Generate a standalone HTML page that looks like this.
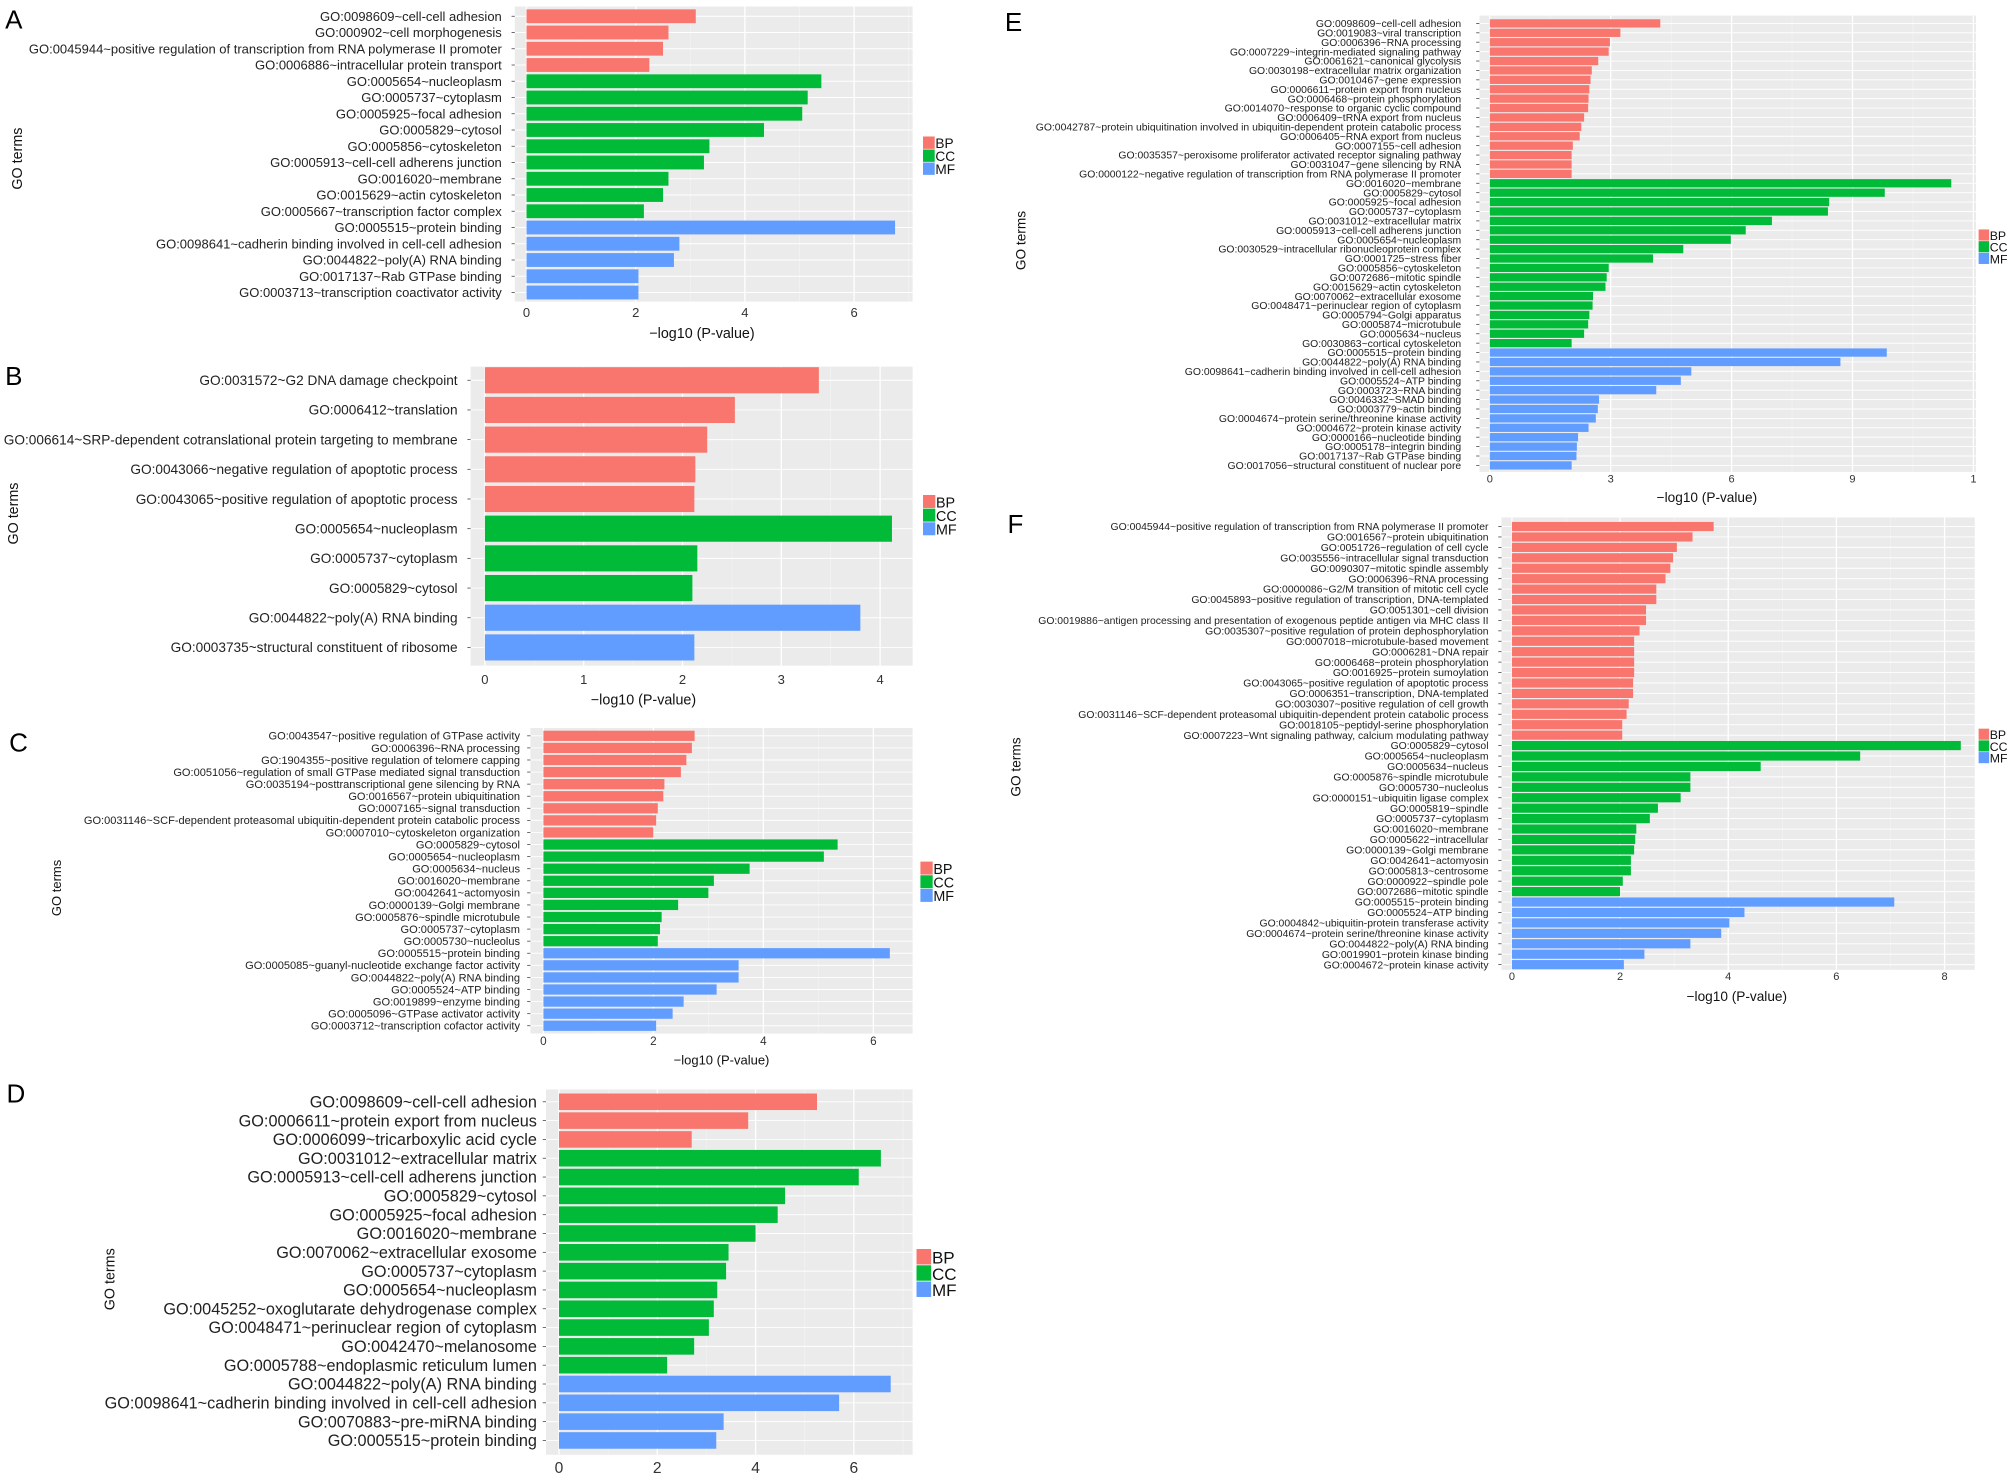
<!DOCTYPE html>
<html><head><meta charset="utf-8"><style>
html,body{margin:0;padding:0;background:#fff}
svg{display:block}
text{font-family:"Liberation Sans Narrow","Liberation Sans",sans-serif}
</style></head><body>
<svg id="fig" width="2008" height="1484" viewBox="0 0 1544.6 1141.5" preserveAspectRatio="none" xmlns="http://www.w3.org/2000/svg"></svg>
<script>
// ---------- DATA ----------
const catsA = ["GO:0098609~cell-cell adhesion","GO:000902~cell morphogenesis","GO:0045944~positive regulation of transcription from RNA polymerase II promoter","GO:0006886~intracellular protein transport","GO:0005654~nucleoplasm","GO:0005737~cytoplasm","GO:0005925~focal adhesion","GO:0005829~cytosol","GO:0005856~cytoskeleton","GO:0005913~cell-cell adherens junction","GO:0016020~membrane","GO:0015629~actin cytoskeleton","GO:0005667~transcription factor complex","GO:0005515~protein binding","GO:0098641~cadherin binding involved in cell-cell adhesion","GO:0044822~poly(A) RNA binding","GO:0017137~Rab GTPase binding","GO:0003713~transcription coactivator activity"];
const valsA = [3.1,2.6,2.5,2.25,5.4,5.15,5.05,4.35,3.35,3.25,2.6,2.5,2.15,6.75,2.8,2.7,2.05,2.05];
const grpA = ["BP","BP","BP","BP","CC","CC","CC","CC","CC","CC","CC","CC","CC","MF","MF","MF","MF","MF"];
const ticksA = [0,2,4,6];

const catsB = ["GO:0031572~G2 DNA damage checkpoint","GO:0006412~translation","GO:006614~SRP-dependent cotranslational protein targeting to membrane","GO:0043066~negative regulation of apoptotic process","GO:0043065~positive regulation of apoptotic process","GO:0005654~nucleoplasm","GO:0005737~cytoplasm","GO:0005829~cytosol","GO:0044822~poly(A) RNA binding","GO:0003735~structural constituent of ribosome"];
const valsB = [3.38,2.53,2.25,2.13,2.12,4.12,2.15,2.1,3.8,2.12];
const grpB = ["BP","BP","BP","BP","BP","CC","CC","CC","MF","MF"];
const ticksB = [0,1,2,3,4];

const catsC = ["GO:0043547~positive regulation of GTPase activity","GO:0006396~RNA processing","GO:1904355~positive regulation of telomere capping","GO:0051056~regulation of small GTPase mediated signal transduction","GO:0035194~posttranscriptional gene silencing by RNA","GO:0016567~protein ubiquitination","GO:0007165~signal transduction","GO:0031146~SCF-dependent proteasomal ubiquitin-dependent protein catabolic process","GO:0007010~cytoskeleton organization","GO:0005829~cytosol","GO:0005654~nucleoplasm","GO:0005634~nucleus","GO:0016020~membrane","GO:0042641~actomyosin","GO:0000139~Golgi membrane","GO:0005876~spindle microtubule","GO:0005737~cytoplasm","GO:0005730~nucleolus","GO:0005515~protein binding","GO:0005085~guanyl-nucleotide exchange factor activity","GO:0044822~poly(A) RNA binding","GO:0005524~ATP binding","GO:0019899~enzyme binding","GO:0005096~GTPase activator activity","GO:0003712~transcription cofactor activity"];
const valsC = [2.75,2.7,2.6,2.5,2.2,2.18,2.08,2.05,2.0,5.35,5.1,3.75,3.1,3.0,2.45,2.15,2.12,2.08,6.3,3.55,3.55,3.15,2.55,2.35,2.05];
const grpC = ["BP","BP","BP","BP","BP","BP","BP","BP","BP","CC","CC","CC","CC","CC","CC","CC","CC","CC","MF","MF","MF","MF","MF","MF","MF"];
const ticksC = [0,2,4,6];

const catsD = ["GO:0098609~cell-cell adhesion","GO:0006611~protein export from nucleus","GO:0006099~tricarboxylic acid cycle","GO:0031012~extracellular matrix","GO:0005913~cell-cell adherens junction","GO:0005829~cytosol","GO:0005925~focal adhesion","GO:0016020~membrane","GO:0070062~extracellular exosome","GO:0005737~cytoplasm","GO:0005654~nucleoplasm","GO:0045252~oxoglutarate dehydrogenase complex","GO:0048471~perinuclear region of cytoplasm","GO:0042470~melanosome","GO:0005788~endoplasmic reticulum lumen","GO:0044822~poly(A) RNA binding","GO:0098641~cadherin binding involved in cell-cell adhesion","GO:0070883~pre-miRNA binding","GO:0005515~protein binding"];
const valsD = [5.25,3.85,2.7,6.55,6.1,4.6,4.45,4.0,3.45,3.4,3.22,3.15,3.05,2.75,2.2,6.75,5.7,3.35,3.2];
const grpD = ["BP","BP","BP","CC","CC","CC","CC","CC","CC","CC","CC","CC","CC","CC","CC","MF","MF","MF","MF"];
const ticksD = [0,2,4,6];

const catsE = ["GO:0098609~cell-cell adhesion","GO:0019083~viral transcription","GO:0006396~RNA processing","GO:0007229~integrin-mediated signaling pathway","GO:0061621~canonical glycolysis","GO:0030198~extracellular matrix organization","GO:0010467~gene expression","GO:0006611~protein export from nucleus","GO:0006468~protein phosphorylation","GO:0014070~response to organic cyclic compound","GO:0006409~tRNA export from nucleus","GO:0042787~protein ubiquitination involved in ubiquitin-dependent protein catabolic process","GO:0006405~RNA export from nucleus","GO:0007155~cell adhesion","GO:0035357~peroxisome proliferator activated receptor signaling pathway","GO:0031047~gene silencing by RNA","GO:0000122~negative regulation of transcription from RNA polymerase II promoter","GO:0016020~membrane","GO:0005829~cytosol","GO:0005925~focal adhesion","GO:0005737~cytoplasm","GO:0031012~extracellular matrix","GO:0005913~cell-cell adherens junction","GO:0005654~nucleoplasm","GO:0030529~intracellular ribonucleoprotein complex","GO:0001725~stress fiber","GO:0005856~cytoskeleton","GO:0072686~mitotic spindle","GO:0015629~actin cytoskeleton","GO:0070062~extracellular exosome","GO:0048471~perinuclear region of cytoplasm","GO:0005794~Golgi apparatus","GO:0005874~microtubule","GO:0005634~nucleus","GO:0030863~cortical cytoskeleton","GO:0005515~protein binding","GO:0044822~poly(A) RNA binding","GO:0098641~cadherin binding involved in cell-cell adhesion","GO:0005524~ATP binding","GO:0003723~RNA binding","GO:0046332~SMAD binding","GO:0003779~actin binding","GO:0004674~protein serine/threonine kinase activity","GO:0004672~protein kinase activity","GO:0000166~nucleotide binding","GO:0005178~integrin binding","GO:0017137~Rab GTPase binding","GO:0017056~structural constituent of nuclear pore"];
const valsE = [4.23,3.24,2.98,2.95,2.69,2.53,2.5,2.47,2.45,2.44,2.34,2.27,2.23,2.06,2.03,2.03,2.03,11.45,9.8,8.42,8.39,7.0,6.35,5.98,4.8,4.05,2.95,2.9,2.87,2.56,2.55,2.47,2.44,2.34,2.03,9.85,8.7,5.0,4.74,4.13,2.71,2.68,2.63,2.45,2.19,2.16,2.15,2.03];
const grpE = [].concat(Array(17).fill("BP"),Array(18).fill("CC"),Array(13).fill("MF"));
const ticksE = [0,3,6,9,12];
const tickLabelsE = ["0","3","6","9","1"];

const catsF = ["GO:0045944~positive regulation of transcription from RNA polymerase II promoter","GO:0016567~protein ubiquitination","GO:0051726~regulation of cell cycle","GO:0035556~intracellular signal transduction","GO:0090307~mitotic spindle assembly","GO:0006396~RNA processing","GO:0000086~G2/M transition of mitotic cell cycle","GO:0045893~positive regulation of transcription, DNA-templated","GO:0051301~cell division","GO:0019886~antigen processing and presentation of exogenous peptide antigen via MHC class II","GO:0035307~positive regulation of protein dephosphorylation","GO:0007018~microtubule-based movement","GO:0006281~DNA repair","GO:0006468~protein phosphorylation","GO:0016925~protein sumoylation","GO:0043065~positive regulation of apoptotic process","GO:0006351~transcription, DNA-templated","GO:0030307~positive regulation of cell growth","GO:0031146~SCF-dependent proteasomal ubiquitin-dependent protein catabolic process","GO:0018105~peptidyl-serine phosphorylation","GO:0007223~Wnt signaling pathway, calcium modulating pathway","GO:0005829~cytosol","GO:0005654~nucleoplasm","GO:0005634~nucleus","GO:0005876~spindle microtubule","GO:0005730~nucleolus","GO:0000151~ubiquitin ligase complex","GO:0005819~spindle","GO:0005737~cytoplasm","GO:0016020~membrane","GO:0005622~intracellular","GO:0000139~Golgi membrane","GO:0042641~actomyosin","GO:0005813~centrosome","GO:0000922~spindle pole","GO:0072686~mitotic spindle","GO:0005515~protein binding","GO:0005524~ATP binding","GO:0004842~ubiquitin-protein transferase activity","GO:0004674~protein serine/threonine kinase activity","GO:0044822~poly(A) RNA binding","GO:0019901~protein kinase binding","GO:0004672~protein kinase activity"];
const valsF = [3.73,3.34,3.05,2.98,2.93,2.84,2.67,2.67,2.48,2.48,2.36,2.26,2.26,2.26,2.26,2.24,2.24,2.16,2.12,2.04,2.04,8.3,6.44,4.6,3.3,3.3,3.12,2.7,2.55,2.3,2.28,2.26,2.2,2.2,2.05,2.0,7.07,4.3,4.02,3.87,3.3,2.45,2.07];
const grpF = [].concat(Array(21).fill("BP"),Array(15).fill("CC"),Array(7).fill("MF"));
const ticksF = [0,2,4,6,8];

const legendKeys = ["BP","CC","MF"];
const COLORS = {BP:"#F8766D",CC:"#00BA38",MF:"#619CFF"};

// ---------- RENDER ----------
const NS = "http://www.w3.org/2000/svg";
const svg = document.getElementById("fig");
function mk(tag, attrs, parent){ const e=document.createElementNS(NS,tag); for(const k in attrs) e.setAttribute(k,attrs[k]); (parent||svg).appendChild(e); return e; }

function panel(p){
  const g = mk("g",{});
  
  
  const xs = v => p.zero + v*p.ppu;
  const n = p.cats.length;
  const step = (p.lastY - p.firstY)/(n-1);
  const ys = i => p.firstY + i*step;
  const bg = mk("rect",{x:p.x0,y:p.y0,width:p.x1-p.x0,height:p.y1-p.y0,fill:"#EBEBEB"},g);
  
  
  for(let i=0;i<p.ticks.length;i++){
    const t=p.ticks[i], nt=(i+1<p.ticks.length)?p.ticks[i+1]:t+(p.ticks[1]-p.ticks[0]);
    const mx = xs((t+nt)/2);
    if(mx<p.x1) mk("line",{x1:mx,x2:mx,y1:p.y0,y2:p.y1,stroke:"#F4F4F4","stroke-width":0.5},g);
  }
  for(let i=0;i<n;i++) mk("line",{x1:p.x0,x2:p.x1,y1:ys(i),y2:ys(i),stroke:"#fff","stroke-width":0.7},g);
  p.ticks.forEach((t,i)=>{
    const x=xs(t);
    if(x<=p.x1+1) mk("line",{x1:x,x2:x,y1:p.y0,y2:p.y1,stroke:"#fff","stroke-width":1},g);
    const tl=mk("text",{x:x,y:p.tickY,"font-size":p.tickFs,"text-anchor":"middle",fill:"#333"},g);
    tl.textContent = p.tickLabels ? p.tickLabels[i] : String(t);
    
    
  });
  const bh = step*p.bf;
  for(let i=0;i<n;i++){
    const r=mk("rect",{x:xs(0),y:ys(i)-bh/2,width:xs(p.vals[i])-xs(0),height:bh,fill:COLORS[p.grp[i]]},g);
    
    
    const t=mk("text",{x:p.labelX,y:ys(i)+p.fs*0.35,"font-size":p.fs,"text-anchor":"end",fill:"#222"},g);
    t.textContent=p.cats[i];
    
    
    mk("line",{x1:p.x0-2.5,x2:p.x0,y1:ys(i),y2:ys(i),stroke:"#444","stroke-width":0.6},g);
  }
  const xt=mk("text",{x:p.xtX,y:p.xtY,"font-size":p.titleFs,"text-anchor":"middle",fill:"#111"},g);
  xt.textContent="\u2212log10 (P-value)";
  
  
  const yt=mk("text",{x:p.ytX,y:p.ytY,"font-size":p.titleFs,"text-anchor":"middle",fill:"#111",transform:`rotate(-90 ${p.ytX} ${p.ytY})`},g);
  yt.textContent="GO terms";
  
  
  legendKeys.forEach((k,i)=>{
    const y=p.legY+i*p.legStep;
    const lr=mk("rect",{x:p.legX,y:y-p.legStep/2,width:p.legStep*0.9,height:p.legStep*0.95,fill:COLORS[k]},g);
    
    
    const lt=mk("text",{x:p.legX+p.legStep*0.95,y:y+p.legStep*0.4,"font-size":p.legStep*1.05,fill:"#111"},g);
    lt.textContent=k;
    
    
  });
  const pl=mk("text",{x:p.letX,y:p.letY,"font-size":20,fill:"#000","font-family":"Liberation Sans, sans-serif"},g);
  pl.textContent=p.id;
  
  
}

panel({id:"A",cats:catsA,vals:valsA,grp:grpA,ticks:ticksA,x0:396,x1:702,y0:5,y1:232,zero:405,ppu:42,firstY:12.5,lastY:225,bf:0.85,fs:10,labelX:386,tickY:244,tickFs:10,xtX:540,xtY:260,titleFs:11,ytX:17,ytY:122,legX:710,legY:110,legStep:10,letX:4,letY:22});
panel({id:"B",cats:catsB,vals:valsB,grp:grpB,ticks:ticksB,x0:362,x1:702,y0:282,y1:512,zero:373,ppu:76,firstY:292.5,lastY:498,bf:0.88,fs:10.5,labelX:352,tickY:526,tickFs:10,xtX:495,xtY:542,titleFs:11,ytX:14,ytY:395,legX:710,legY:386,legStep:10.5,letX:4,letY:296});
panel({id:"C",cats:catsC,vals:valsC,grp:grpC,ticks:ticksC,x0:408,x1:702,y0:560,y1:795,zero:418,ppu:42.3,firstY:566,lastY:789,bf:0.85,fs:8.5,labelX:400,tickY:804,tickFs:9,xtX:555,xtY:819,titleFs:10,ytX:47,ytY:683,legX:708,legY:668,legStep:10.5,letX:7,letY:578});
panel({id:"D",cats:catsD,vals:valsD,grp:grpD,ticks:ticksD,x0:420,x1:702,y0:838,y1:1119,zero:430,ppu:37.8,firstY:847.5,lastY:1108,bf:0.88,fs:12.5,labelX:413,tickY:1133,tickFs:12,xtX:557,xtY:1150,titleFs:11,ytX:88,ytY:984,legX:705,legY:967,legStep:12.5,letX:5,letY:848});
panel({id:"E",cats:catsE,vals:valsE,grp:grpE,ticks:ticksE,tickLabels:tickLabelsE,x0:1138,x1:1520,y0:12,y1:363,zero:1146,ppu:31,firstY:18,lastY:358,bf:0.88,fs:8,labelX:1124,tickY:371,tickFs:8.5,xtX:1313,xtY:386,titleFs:10.5,ytX:789,ytY:185,legX:1522,legY:181,legStep:9,letX:773,letY:24});
panel({id:"F",cats:catsF,vals:valsF,grp:grpF,ticks:ticksF,x0:1155,x1:1519,y0:398,y1:746,zero:1163,ppu:41.6,firstY:405,lastY:742,bf:0.88,fs:8,labelX:1145,tickY:754,tickFs:8.5,xtX:1336,xtY:770,titleFs:10.5,ytX:785,ytY:590,legX:1522,legY:565,legStep:9,letX:775,letY:410});
</script>
</body></html>
